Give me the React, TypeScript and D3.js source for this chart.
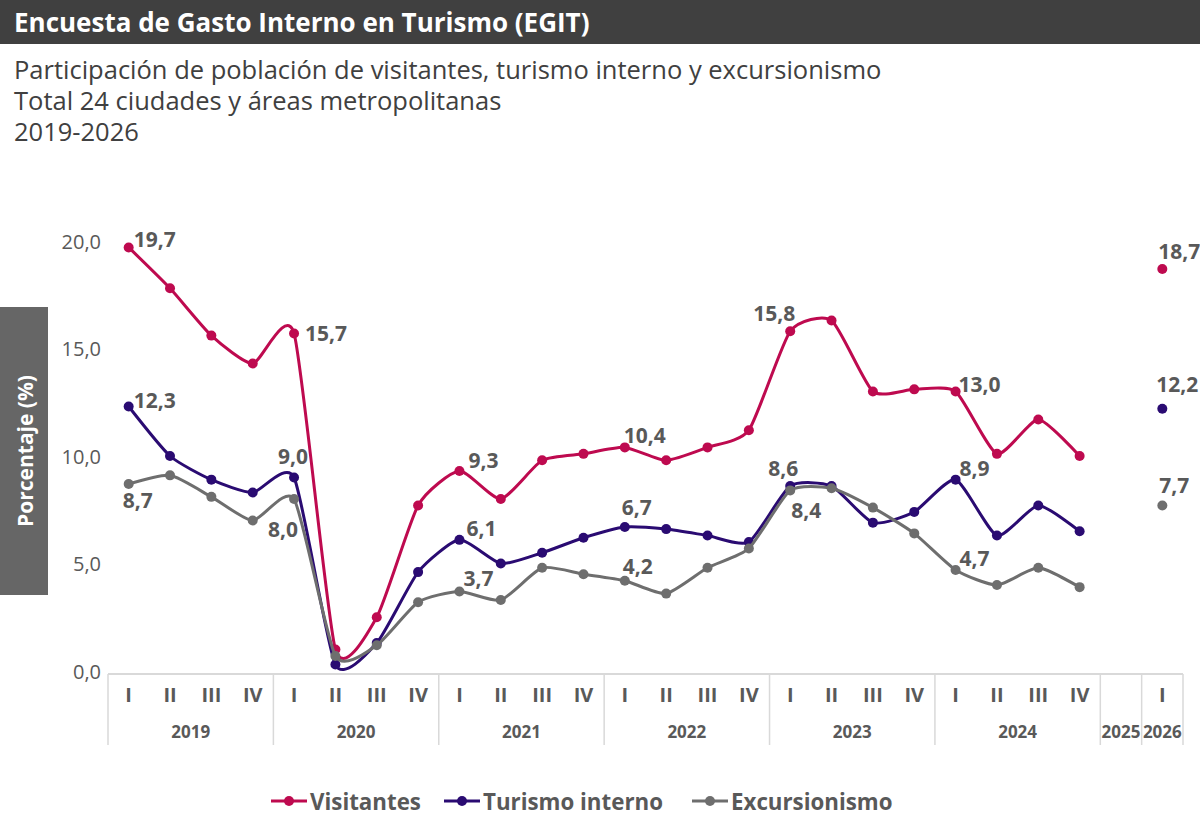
import React from 'react';
import * as d3 from 'd3';

// Periodos: trimestres agrupados por año (2025 sin dato)
const years = ['2019', '2020', '2021', '2022', '2023', '2024', '2025', '2026'];
const yearQuarters = [
  ['I', 'II', 'III', 'IV'],
  ['I', 'II', 'III', 'IV'],
  ['I', 'II', 'III', 'IV'],
  ['I', 'II', 'III', 'IV'],
  ['I', 'II', 'III', 'IV'],
  ['I', 'II', 'III', 'IV'],
  [''],
  ['I'],
];

const visitantes = [
  19.7, 17.8, 15.6, 14.3,
  15.7, 1.0, 2.5, 7.7,
  9.3, 8.0, 9.8, 10.1,
  10.4, 9.8, 10.4, 11.2,
  15.8, 16.3, 13.0, 13.1,
  13.0, 10.1, 11.7, 10.0,
  null,
  18.7,
];
const turismoInterno = [
  12.3, 10.0, 8.9, 8.3,
  9.0, 0.3, 1.3, 4.6,
  6.1, 5.0, 5.5, 6.2,
  6.7, 6.6, 6.3, 6.0,
  8.6, 8.6, 6.9, 7.4,
  8.9, 6.3, 7.7, 6.5,
  null,
  12.2,
];
const excursionismo = [
  8.7, 9.1, 8.1, 7.0,
  8.0, 0.7, 1.2, 3.2,
  3.7, 3.3, 4.8, 4.5,
  4.2, 3.6, 4.8, 5.7,
  8.4, 8.5, 7.6, 6.4,
  4.7, 4.0, 4.8, 3.9,
  null,
  7.7,
];

const yTicks = [0, 5, 10, 15, 20];

// Etiquetas de valor visibles: serie, índice del periodo y ubicación del texto
const labelSpots = [
  { s: 0, i: 0, dx: 5, dy: -8, anchor: 'start' },
  { s: 0, i: 4, dx: 11, dy: 0, anchor: 'start' },
  { s: 0, i: 8, dx: 9, dy: -11, anchor: 'start' },
  { s: 0, i: 12, dx: 20, dy: -12, anchor: 'middle' },
  { s: 0, i: 16, dx: 5, dy: -18, anchor: 'end' },
  { s: 0, i: 20, dx: 3, dy: -8, anchor: 'start' },
  { s: 0, i: 25, dx: 17, dy: -18, anchor: 'middle' },
  { s: 1, i: 0, dx: 5, dy: -7, anchor: 'start' },
  { s: 1, i: 4, dx: -1, dy: -22, anchor: 'middle' },
  { s: 1, i: 8, dx: 7, dy: -12, anchor: 'start' },
  { s: 1, i: 12, dx: 12, dy: -20, anchor: 'middle' },
  { s: 1, i: 16, dx: -7, dy: -18, anchor: 'middle' },
  { s: 1, i: 20, dx: 4, dy: -12, anchor: 'start' },
  { s: 1, i: 25, dx: 15, dy: -25, anchor: 'middle' },
  { s: 2, i: 0, dx: 9, dy: 16, anchor: 'middle' },
  { s: 2, i: 4, dx: -11, dy: 30, anchor: 'middle' },
  { s: 2, i: 8, dx: 19, dy: -13, anchor: 'middle' },
  { s: 2, i: 12, dx: 13, dy: -15, anchor: 'middle' },
  { s: 2, i: 16, dx: 16, dy: 20, anchor: 'middle' },
  { s: 2, i: 20, dx: 4, dy: -12, anchor: 'start' },
  { s: 2, i: 25, dx: 12, dy: -20, anchor: 'middle' },
];

const series = [
  { name: 'Visitantes', values: visitantes, color: '#BE0A4F' },
  { name: 'Turismo interno', values: turismoInterno, color: '#2A0B72' },
  { name: 'Excursionismo', values: excursionismo, color: '#6E6E6E' },
];

const FONT = '"Open Sans", "DejaVu Sans", sans-serif';
const TEXT = '#595959';
const fmt = (v: number) => v.toFixed(1).replace('.', ',');

const W = 1200;
const H = 832;
const plotLeft = 108;
const plotRight = 1183;

export default function App() {
  const categories = years.flatMap((y, yi) => yearQuarters[yi].map((q) => `${y}-${q}`));

  const x = d3.scaleBand<string>().domain(categories).range([plotLeft, plotRight]).padding(0);
  const y = d3.scaleLinear().domain([0, 20]).range([671, 241]);
  const cx = (i: number) => (x(categories[i]) ?? 0) + x.bandwidth() / 2;

  // líneas suavizadas
  const line = d3
    .line<number | null>()
    .defined((d) => d !== null)
    .x((_, i) => cx(i))
    .y((d) => y(d as number))
    .curve(d3.curveCardinal.tension(0.4));

  const axisY = y(0) + 3;
  const sepBottom = 745;

  // límites de cada año en el eje
  let pos = 0;
  const yearBands = years.map((yr, yi) => {
    const start = x(categories[pos]) ?? 0;
    pos += yearQuarters[yi].length;
    const end = pos < categories.length ? x(categories[pos]) ?? plotRight : plotRight;
    return { yr, start, end };
  });

  const legendItems = [
    { x: 271, name: series[0].name, color: series[0].color },
    { x: 444, name: series[1].name, color: series[1].color },
    { x: 692, name: series[2].name, color: series[2].color },
  ];

  return (
    <svg width={W} height={H} style={{ display: 'block', position: 'absolute', left: 0, top: 0 }} fontFamily={FONT}>
      <rect width={W} height={H} fill="#ffffff" />

      {/* Encabezado */}
      <rect x={0} y={0} width={W} height={44} fill="#404040" />
      <text x={14} y={32} fill="#ffffff" fontSize={26} fontWeight={700}>
        Encuesta de Gasto Interno en Turismo (EGIT)
      </text>
      <g fill="#404040" fontSize={25.5}>
        <text x={14} y={79}>Participación de población de visitantes, turismo interno y excursionismo</text>
        <text x={14} y={110}>Total 24 ciudades y áreas metropolitanas</text>
        <text x={14} y={141}>2019-2026</text>
      </g>

      {/* Título del eje Y */}
      <rect x={0} y={307} width={48} height={288} fill="#666666" />
      <text
        transform={`translate(25,451) rotate(-90)`}
        textAnchor="middle"
        dominantBaseline="central"
        fill="#ffffff"
        fontSize={21}
        fontWeight={700}
      >
        Porcentaje (%)
      </text>

      {/* Marcas del eje Y */}
      {yTicks.map((t) => (
        <text key={t} x={101} y={y(t)} textAnchor="end" dominantBaseline="central" fill={TEXT} fontSize={20}>
          {fmt(t)}
        </text>
      ))}

      {/* Eje X */}
      <line x1={plotLeft} x2={plotRight} y1={axisY} y2={axisY} stroke="#d9d9d9" strokeWidth={2} />
      {yearBands.map((b) => (
        <g key={b.yr}>
          <line x1={b.start} x2={b.start} y1={axisY} y2={sepBottom} stroke="#d9d9d9" strokeWidth={1.5} />
          <text
            x={(b.start + b.end) / 2}
            y={731}
            textAnchor="middle"
            dominantBaseline="central"
            fill={TEXT}
            fontSize={17}
            fontWeight={700}
          >
            {b.yr}
          </text>
        </g>
      ))}
      <line x1={plotRight} x2={plotRight} y1={axisY} y2={sepBottom} stroke="#d9d9d9" strokeWidth={1.5} />
      {categories.map((c, i) => (
        <text
          key={c}
          x={cx(i)}
          y={694}
          textAnchor="middle"
          dominantBaseline="central"
          fill={TEXT}
          fontSize={20}
          fontWeight={700}
        >
          {c.split('-')[1]}
        </text>
      ))}

      {/* Series */}
      {series.map((s) => (
        <g key={s.name}>
          <path d={line(s.values) ?? ''} fill="none" stroke={s.color} strokeWidth={3} />
          {s.values.map((v, i) =>
            v === null ? null : <circle key={i} cx={cx(i)} cy={y(v)} r={5} fill={s.color} />
          )}
        </g>
      ))}

      {/* Etiquetas de datos */}
      {labelSpots.map((l, k) => {
        const v = series[l.s].values[l.i] as number;
        return (
          <text
            key={k}
            x={cx(l.i) + l.dx}
            y={y(v) + l.dy}
            textAnchor={l.anchor}
            dominantBaseline="central"
            fill={TEXT}
            fontSize={21}
            fontWeight={700}
          >
            {fmt(v)}
          </text>
        );
      })}

      {/* Leyenda */}
      {legendItems.map((it) => (
        <g key={it.name}>
          <line x1={it.x} x2={it.x + 36} y1={801} y2={801} stroke={it.color} strokeWidth={3} />
          <circle cx={it.x + 18} cy={801} r={5} fill={it.color} />
          <text x={it.x + 39} y={801} dominantBaseline="central" fill={TEXT} fontSize={22.3} fontWeight={700}>
            {it.name}
          </text>
        </g>
      ))}
    </svg>
  );
}
